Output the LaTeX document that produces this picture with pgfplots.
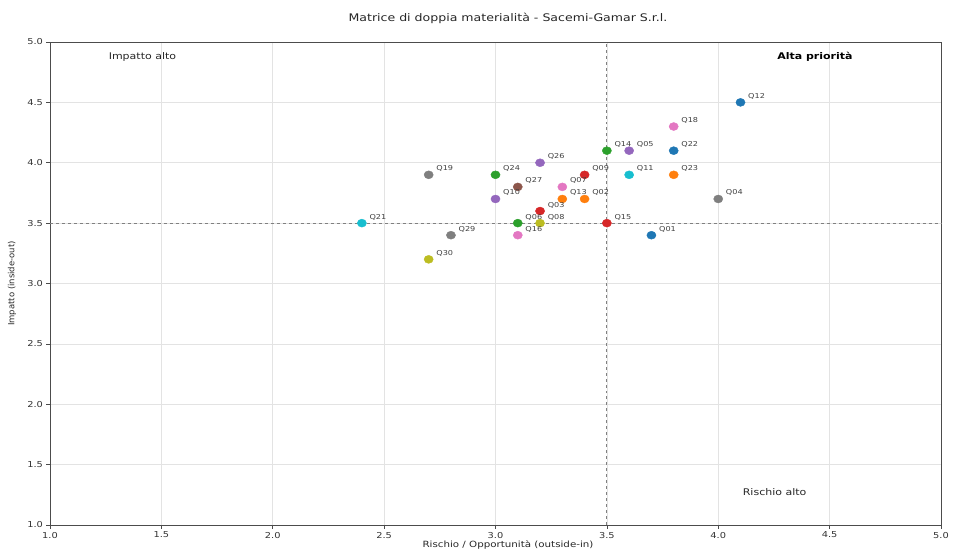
\documentclass[border=0pt]{standalone}
\usepackage{fontspec}
\setmainfont{DejaVu Sans}[FakeStretch=1.2]
\newfontfamily\plainfont{DejaVu Sans}
\usepackage{pgfplots}
\pgfplotsset{compat=1.18}
\definecolor{tabblue}{HTML}{1F77B4}
\definecolor{taborange}{HTML}{FF7F0E}
\definecolor{tabgreen}{HTML}{2CA02C}
\definecolor{tabred}{HTML}{D62728}
\definecolor{tabpurple}{HTML}{9467BD}
\definecolor{tabbrown}{HTML}{8C564B}
\definecolor{tabpink}{HTML}{E377C2}
\definecolor{tabgray}{HTML}{7F7F7F}
\definecolor{tabolive}{HTML}{BCBD22}
\definecolor{tabcyan}{HTML}{17BECF}

% x, y, colour, label
\newcommand{\pt}[4]{%
  \addplot[only marks, mark=*, mark size=4bp, draw=#3, fill=#3,
    mark options={xscale=1.15},
    nodes near coords={#4},
    nodes near coords style={anchor=base west, inner sep=0pt, xshift=7.5bp, yshift=4bp,
      font=\fontsize{6.8}{8}\selectfont, text=black!75}]
    coordinates {(#1,#2)};}

\begin{document}
\begin{tikzpicture}
\useasboundingbox (-50bp,-25bp) rectangle (904bp,525bp);
\begin{axis}[
  at={(0,0)}, anchor=south west,
  scale only axis, width=891bp, height=483bp,
  xmin=1, xmax=5, ymin=1, ymax=5,
  xtick={1,1.5,2,2.5,3,3.5,4,4.5,5},
  ytick={1,1.5,2,2.5,3,3.5,4,4.5,5},
  xticklabel style={/pgf/number format/.cd, fixed, fixed zerofill, precision=1},
  yticklabel style={/pgf/number format/.cd, fixed, fixed zerofill, precision=1},
  /pgf/number format/assume math mode=true,
  ticklabel style={font=\fontsize{8.2}{9}\selectfont, text=black!80},
  tick align=outside, major tick length=3.5bp,
  xtick pos=lower, ytick pos=left,
  tick style={black!70, line width=0.6bp},
  axis line style={black!70, line width=0.8bp},
  grid=major, grid style={gray!22, line width=0.6bp},
  title={Matrice di doppia materialità - Sacemi-Gamar S.r.l.},
  title style={at={(0.514,1.037)}, anchor=center, font=\fontsize{10.5}{12}\selectfont, text=black!85},
  xlabel={Rischio / Opportunità (outside-in)},
  xlabel style={at={(0.514,-0.0414)}, anchor=center, font=\fontsize{8.6}{10}\selectfont, text=black!85},
  ylabel={\plainfont Impatto (inside-out)},
  ylabel style={at={(-0.0426,0.5)}, anchor=center, font=\fontsize{8.5}{10}\selectfont, text=black!85},
  clip=false,
]
\addplot[gray, dashed, line width=0.8bp, forget plot] coordinates {(3.5,1) (3.5,5)};
\addplot[gray, dashed, line width=0.8bp, forget plot] coordinates {(1,3.5) (5,3.5)};
\pt{4.1}{4.5}{tabblue}{Q12}
\pt{3.8}{4.3}{tabpink}{Q18}
\pt{3.5}{4.1}{tabgreen}{Q14}
\pt{3.6}{4.1}{tabpurple}{Q05}
\pt{3.8}{4.1}{tabblue}{Q22}
\pt{3.2}{4.0}{tabpurple}{Q26}
\pt{2.7}{3.9}{tabgray}{Q19}
\pt{3.0}{3.9}{tabgreen}{Q24}
\pt{3.4}{3.9}{tabred}{Q09}
\pt{3.6}{3.9}{tabcyan}{Q11}
\pt{3.8}{3.9}{taborange}{Q23}
\pt{3.1}{3.8}{tabbrown}{Q27}
\pt{3.3}{3.8}{tabpink}{Q07}
\pt{3.0}{3.7}{tabpurple}{Q10}
\pt{3.3}{3.7}{taborange}{Q13}
\pt{3.4}{3.7}{taborange}{Q02}
\pt{4.0}{3.7}{tabgray}{Q04}
\pt{3.2}{3.6}{tabred}{Q03}
\pt{2.4}{3.5}{tabcyan}{Q21}
\pt{3.1}{3.5}{tabgreen}{Q06}
\pt{3.2}{3.5}{tabolive}{Q08}
\pt{3.5}{3.5}{tabred}{Q15}
\pt{2.8}{3.4}{tabgray}{Q29}
\pt{3.1}{3.4}{tabpink}{Q16}
\pt{3.7}{3.4}{tabblue}{Q01}
\pt{2.7}{3.2}{tabolive}{Q30}
\node[font=\fontsize{9.2}{10}\selectfont, text=black!85] at (axis cs:1.415,4.878) {Impatto alto};
\node[font=\bfseries\fontsize{9.2}{10}\selectfont, text=black] at (axis cs:4.434,4.878) {Alta priorità};
\node[font=\fontsize{9.2}{10}\selectfont, text=black!85] at (axis cs:4.253,1.273) {Rischio alto};
\end{axis}
\end{tikzpicture}
\end{document}
